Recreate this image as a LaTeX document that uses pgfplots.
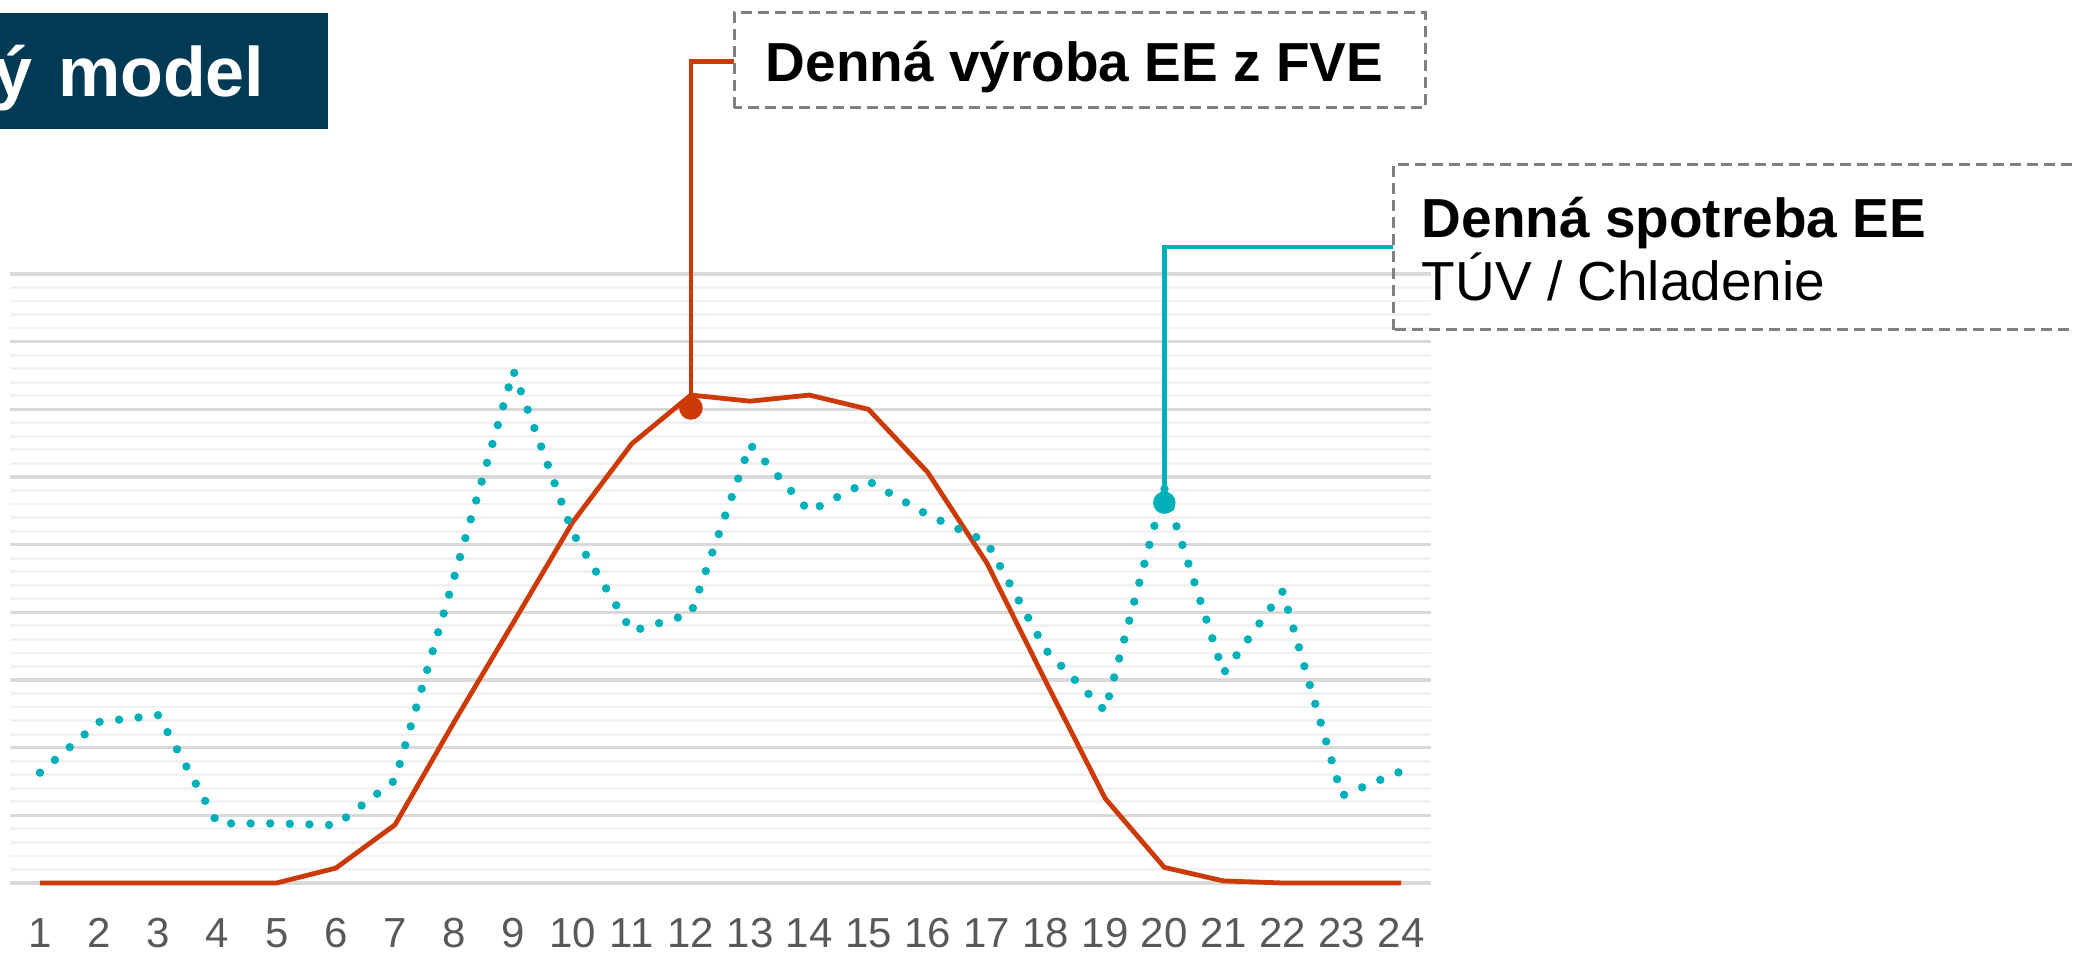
\documentclass[border=0pt]{standalone}
\usepackage{fontspec}
\setmainfont{Liberation Sans}
\usepackage{pgfplots}
\pgfplotsset{compat=1.18}
\definecolor{fveRed}{RGB}{204,58,8}
\definecolor{useTeal}{RGB}{0,176,185}
\definecolor{navy}{RGB}{0,58,85}
\definecolor{boxGray}{RGB}{128,128,128}
\definecolor{gridMaj}{RGB}{217,217,217}
\definecolor{gridMin}{RGB}{242,242,242}
\definecolor{tickGray}{RGB}{89,89,89}
\begin{document}
\begin{tikzpicture}[x=0.25bp,y=0.25bp]
\useasboundingbox (0,0) rectangle (2073,953);
% title box (cut at left edge)
\fill[navy] (-20,824) rectangle (328,940);
\node[anchor=base east, inner sep=0, text=white, font=\fontsize{17.5bp}{20bp}\selectfont\bfseries] at (265,856) {ý\hspace{6.5bp}model};
\begin{axis}[
  at={(2.6bp,17.5bp)}, anchor=south west,
  scale only axis, width=355.05bp, height=152.25bp,
  xmin=0.5, xmax=24.5, ymin=0, ymax=9,
  axis line style={draw=none},
  tick style={draw=none},
  xtick={1,...,24},
  ytick={0,...,9},
  ymajorticks=false, yminorticks=false,
  minor y tick num=4,
  ymajorgrids, yminorgrids,
  major grid style={line width=0.85bp, color=gridMaj},
  minor grid style={line width=0.7bp, color=gridMin},
  /pgf/number format/assume math mode=true,
  xticklabel style={anchor=base, yshift=-16.25bp, font=\fontsize{10.5bp}{12bp}\selectfont, text=tickGray},
  clip=false,
]
\addplot[fveRed, line width=1.2bp, line join=round, mark=none] coordinates {
(1,0)(2,0)(3,0)(4,0)(5,0)(6,0.22)(7,0.86)(8,2.38)(9,3.85)(10,5.33)(11,6.49)(12,7.21)
(13,7.12)(14,7.21)(15,7.0)(16,6.07)(17,4.73)(18,2.97)(19,1.25)(20,0.23)(21,0.03)(22,0)(23,0)(24,0)};
\addplot[useTeal, line width=2.1bp, line cap=round, line join=round, dash pattern=on 0pt off 4.9bp, mark=none] coordinates {
(1,1.63)(2,2.38)(3,2.48)(4,0.88)(5,0.88)(6,0.855)(7,1.52)(8,4.52)(9,7.57)(10,5.18)(11,3.72)(12,3.98)
(13,6.48)(14,5.49)(15,5.94)(16,5.44)(17,5.04)(18,3.44)(19,2.54)(20,5.83)(21,3.10)(22,4.31)(23,1.29)(24,1.65)};
\addplot[only marks, mark=*, mark size=2.75bp, color=fveRed] coordinates {(12,7.02)};
\addplot[only marks, mark=*, mark size=2.6bp, color=useTeal] coordinates {(20,5.62)};
\coordinate (rdot) at (axis cs:12,7.02);
\coordinate (tdot) at (axis cs:20,5.62);
\end{axis}
\coordinate (rtop) at (0,891.3);
\coordinate (ttop) at (0,706);
\draw[fveRed, line width=1.1bp] (rdot) -- (rdot |- rtop) -- (734,891.3);
\draw[useTeal, line width=1.1bp] (tdot) -- (tdot |- ttop) -- (1393,706);
% callout boxes
\draw[boxGray, line width=0.75bp, dash pattern=on 2.75bp off 1.5bp] (734,845) rectangle (1425,940);
\node[anchor=base west, inner sep=0, font=\fontsize{13.75bp}{15.75bp}\selectfont\bfseries] at (765,871) {Denná výroba EE z FVE};
\draw[boxGray, line width=0.75bp, dash pattern=on 2.75bp off 1.5bp] (1393,623) rectangle (2110,788);
\node[anchor=base west, inner sep=0, font=\fontsize{13.75bp}{15.75bp}\selectfont\bfseries] at (1421,715) {Denná spotreba EE};
\node[anchor=base west, inner sep=0, font=\fontsize{13.75bp}{15.75bp}\selectfont] at (1421,652) {TÚV / Chladenie};
\end{tikzpicture}
\end{document}
